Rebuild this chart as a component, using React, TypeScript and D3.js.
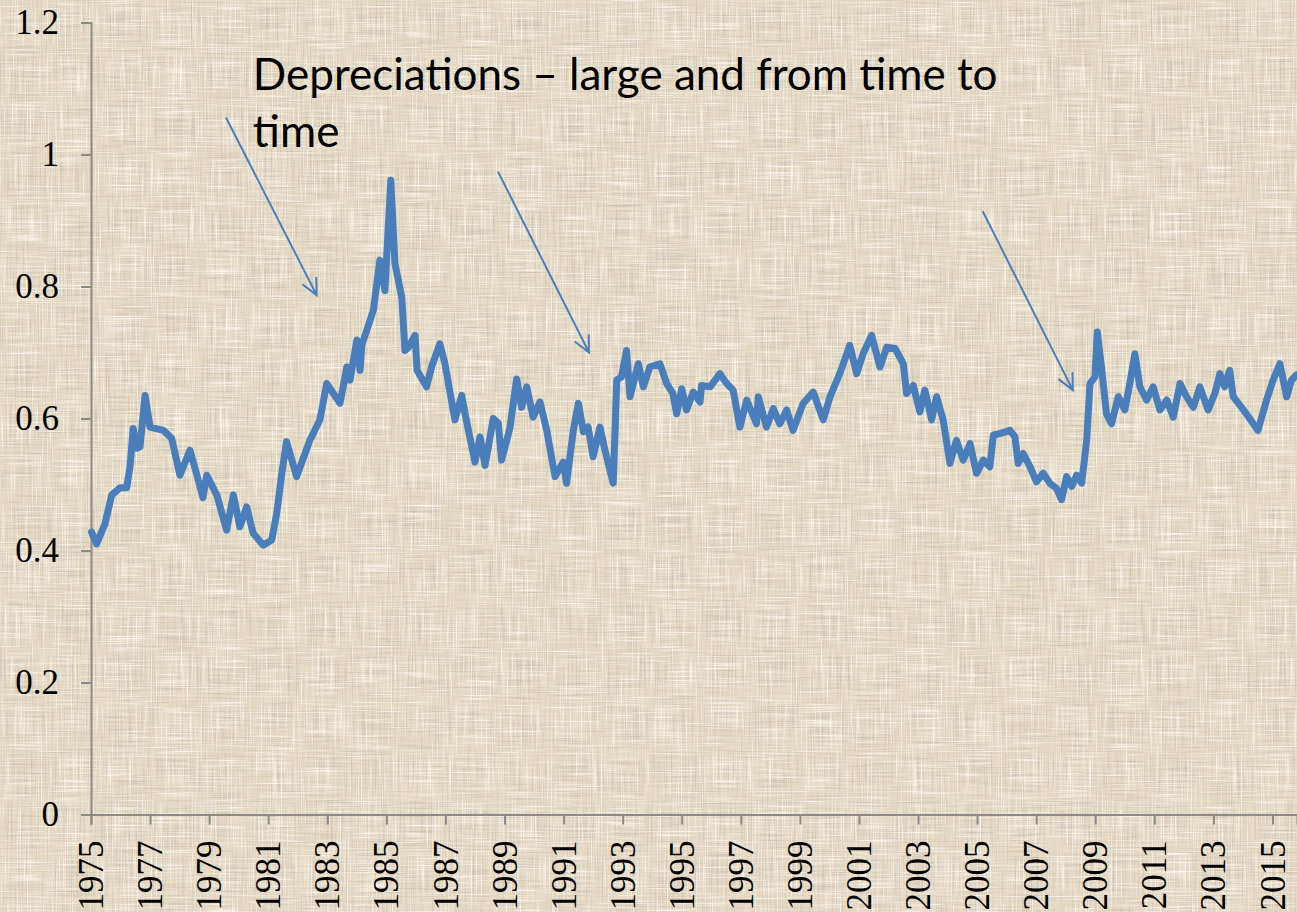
import React, { useEffect, useRef } from "react";
import * as d3 from "d3";

// decimal year of each reading, and the rate
const dates = [
  1975.02, 1975.19, 1975.47, 1975.7, 1975.98, 1976.21, 1976.32, 1976.43, 1976.55, 1976.66,
  1976.83, 1977.0, 1977.45, 1977.73, 1978.01, 1978.35, 1978.63, 1978.79, 1978.92, 1979.26,
  1979.59, 1979.82, 1980.04, 1980.27, 1980.49, 1980.83, 1981.12, 1981.29, 1981.46, 1981.62,
  1981.96, 1982.41, 1982.75, 1982.98, 1983.43, 1983.66, 1983.77, 1984.0, 1984.11, 1984.17,
  1984.56, 1984.78, 1984.95, 1985.15, 1985.29, 1985.52, 1985.63, 1985.75, 1985.97, 1986.04,
  1986.36, 1986.53, 1986.81, 1986.98, 1987.32, 1987.55, 1987.66, 1988.0, 1988.17, 1988.34,
  1988.62, 1988.79, 1988.9, 1989.18, 1989.41, 1989.58, 1989.75, 1989.97, 1990.2, 1990.43,
  1990.71, 1990.99, 1991.1, 1991.33, 1991.5, 1991.67, 1991.83, 1992.0, 1992.23, 1992.4,
  1992.68, 1992.8, 1992.96, 1993.13, 1993.25, 1993.53, 1993.7, 1993.92, 1994.26, 1994.49,
  1994.7, 1994.83, 1995.0, 1995.16, 1995.39, 1995.62, 1995.67, 1995.96, 1996.29, 1996.52,
  1996.74, 1996.97, 1997.2, 1997.53, 1997.59, 1997.87, 1998.1, 1998.32, 1998.55, 1998.77,
  1999.11, 1999.45, 1999.79, 2000.02, 2000.35, 2000.69, 2000.92, 2001.14, 2001.43, 2001.71,
  2001.94, 2002.22, 2002.5, 2002.61, 2002.84, 2003.06, 2003.23, 2003.46, 2003.63, 2003.85,
  2004.08, 2004.3, 2004.53, 2004.76, 2004.98, 2005.21, 2005.43, 2005.55, 2005.77, 2006.11,
  2006.28, 2006.39, 2006.56, 2006.79, 2007.01, 2007.24, 2007.46, 2007.69, 2007.86, 2008.03,
  2008.2, 2008.37, 2008.54, 2008.71, 2008.82, 2008.99, 2009.07, 2009.21, 2009.38, 2009.55,
  2009.78, 2010.0, 2010.17, 2010.34, 2010.51, 2010.74, 2010.96, 2011.19, 2011.42, 2011.64,
  2011.87, 2012.09, 2012.32, 2012.54, 2012.82, 2013.05, 2013.22, 2013.38, 2013.55, 2013.67,
  2014.12, 2014.51, 2014.8, 2015.02, 2015.25, 2015.48, 2015.64, 2015.81,
];

const rates = [
  0.428, 0.41, 0.44, 0.484, 0.495, 0.495, 0.527, 0.585, 0.555, 0.557,
  0.635, 0.587, 0.582, 0.57, 0.514, 0.552, 0.507, 0.48, 0.514, 0.484,
  0.431, 0.484, 0.436, 0.466, 0.426, 0.408, 0.416, 0.457, 0.517, 0.565,
  0.512, 0.567, 0.598, 0.653, 0.623, 0.678, 0.658, 0.719, 0.673, 0.711,
  0.764, 0.84, 0.794, 0.961, 0.835, 0.784, 0.703, 0.708, 0.726, 0.673,
  0.648, 0.678, 0.713, 0.684, 0.598, 0.635, 0.608, 0.534, 0.572, 0.529,
  0.6, 0.593, 0.537, 0.585, 0.66, 0.617, 0.648, 0.602, 0.625, 0.582,
  0.512, 0.534, 0.502, 0.582, 0.623, 0.58, 0.587, 0.542, 0.587, 0.552,
  0.502, 0.658, 0.663, 0.703, 0.633, 0.683, 0.648, 0.678, 0.683, 0.653,
  0.638, 0.607, 0.645, 0.613, 0.64, 0.625, 0.65, 0.648, 0.668, 0.653,
  0.643, 0.587, 0.628, 0.592, 0.633, 0.587, 0.615, 0.592, 0.613, 0.582,
  0.623, 0.64, 0.598, 0.633, 0.668, 0.711, 0.668, 0.698, 0.726, 0.678,
  0.708, 0.706, 0.683, 0.638, 0.65, 0.61, 0.643, 0.598, 0.633, 0.598,
  0.532, 0.567, 0.537, 0.562, 0.517, 0.537, 0.527, 0.575, 0.577, 0.582,
  0.572, 0.532, 0.547, 0.527, 0.504, 0.517, 0.502, 0.494, 0.477, 0.512,
  0.497, 0.514, 0.502, 0.567, 0.653, 0.663, 0.731, 0.678, 0.607, 0.592,
  0.633, 0.613, 0.653, 0.698, 0.648, 0.628, 0.648, 0.613, 0.628, 0.602,
  0.653, 0.633, 0.617, 0.648, 0.613, 0.638, 0.668, 0.648, 0.673, 0.633,
  0.607, 0.582, 0.628, 0.658, 0.683, 0.633, 0.658, 0.666,
];

const yearTicks = [
  1975, 1977, 1979, 1981, 1983, 1985, 1987, 1989, 1991, 1993, 1995,
  1997, 1999, 2001, 2003, 2005, 2007, 2009, 2011, 2013, 2015,
];
const valueTicks = [0, 0.2, 0.4, 0.6, 0.8, 1, 1.2];

const noteLines = ["Depreciations \u2013 large and from time to", "time"];
// arrows: [start year, start value] -> [tip year, tip value]
const arrowStarts = [[1979.57, 1.056], [1988.78, 0.974], [2005.19, 0.914]];
const arrowTips = [[1982.64, 0.787], [1991.86, 0.7], [2008.24, 0.643]];

const W = 1297;
const H = 912;

export default function App() {
  const ref = useRef<SVGSVGElement>(null);

  useEffect(() => {
    const svg = d3.select(ref.current);
    svg.selectAll("*").remove();

    const blue = "#4a7ebb";
    const axisCol = "#8a8a8a";

    const x = d3.scaleLinear().domain([1975, 2015.83]).range([91, W]);
    const y = d3.scaleLinear().domain([0, 1.2]).range([814.5, 22.5]);

    // linen background
    const defs = svg.append("defs");
    const f = defs.append("filter").attr("id", "linen")
      .attr("x", 0).attr("y", 0).attr("width", 1).attr("height", 1);
    f.append("feTurbulence").attr("type", "fractalNoise")
      .attr("baseFrequency", "0.8 0.02").attr("numOctaves", 2).attr("seed", 3).attr("result", "vt");
    f.append("feTurbulence").attr("type", "fractalNoise")
      .attr("baseFrequency", "0.02 0.8").attr("numOctaves", 2).attr("seed", 8).attr("result", "ht");
    const dark = "0 0 0 0 0.5 0 0 0 0 0.45 0 0 0 0 0.38 1.8 0 0 0 -0.98";
    const light = "0 0 0 0 0.99 0 0 0 0 0.97 0 0 0 0 0.92 -2.6 0 0 0 1.15";
    f.append("feColorMatrix").attr("in", "vt").attr("type", "matrix").attr("values", dark).attr("result", "vd");
    f.append("feColorMatrix").attr("in", "ht").attr("type", "matrix").attr("values", dark).attr("result", "hd");
    f.append("feColorMatrix").attr("in", "vt").attr("type", "matrix").attr("values", light).attr("result", "vl");
    f.append("feColorMatrix").attr("in", "ht").attr("type", "matrix").attr("values", light).attr("result", "hl");
    const m = f.append("feMerge");
    ["SourceGraphic", "vd", "hd", "vl", "hl"].forEach((k) => m.append("feMergeNode").attr("in", k));

    svg.append("rect").attr("width", W).attr("height", H)
      .attr("fill", "#e5dac4").attr("filter", "url(#linen)");

    // y axis
    const gy = svg.append("g").attr("transform", `translate(${x(1975)},0)`)
      .call(d3.axisLeft(y).tickValues(valueTicks).tickSize(10).tickPadding(22).tickFormat((d) => String(d)));
    gy.selectAll("text").attr("font-family", "'Liberation Serif', 'Times New Roman', serif")
      .attr("font-size", 35).attr("fill", "#000");

    // x axis
    const gx = svg.append("g").attr("transform", `translate(0,${y(0)})`)
      .call(d3.axisBottom(x).tickValues(yearTicks).tickSize(10).tickFormat(d3.format("d")));
    gx.selectAll("text")
      .attr("font-family", "'Liberation Serif', 'Times New Roman', serif")
      .attr("font-size", 35).attr("fill", "#000")
      .attr("text-anchor", "end")
      .attr("transform", "translate(0,26) rotate(-90)")
      .attr("x", 0).attr("y", 0).attr("dy", "0.33em");

    [gx, gy].forEach((g) => {
      g.selectAll("path, line").attr("stroke", axisCol).attr("stroke-width", 2);
    });

    // series
    const line = d3.line<number>().x((d, i) => x(dates[i])).y((d) => y(d));
    svg.append("path").datum(rates).attr("d", line)
      .attr("fill", "none").attr("stroke", blue).attr("stroke-width", 7)
      .attr("stroke-linejoin", "round").attr("stroke-linecap", "round");

    // note
    const note = svg.append("text").attr("font-family", "Lato, 'Open Sans', sans-serif")
      .attr("font-size", 44).attr("fill", "#000");
    noteLines.forEach((t, i) => {
      note.append("tspan").attr("x", x(1980.48)).attr("y", y(i === 0 ? 1.097 : 1.012)).text(t);
    });

    // arrows
    arrowStarts.forEach((s, i) => {
      const t = arrowTips[i];
      const x0 = x(s[0]), y0 = y(s[1]), x1 = x(t[0]), y1 = y(t[1]);
      const a = Math.atan2(y1 - y0, x1 - x0);
      const len = 18, spread = 0.45;
      const b1 = [x1 - len * Math.cos(a - spread), y1 - len * Math.sin(a - spread)];
      const b2 = [x1 - len * Math.cos(a + spread), y1 - len * Math.sin(a + spread)];
      svg.append("path")
        .attr("d", `M${x0},${y0}L${x1},${y1}M${b1[0]},${b1[1]}L${x1},${y1}L${b2[0]},${b2[1]}`)
        .attr("fill", "none").attr("stroke", blue).attr("stroke-width", 2);
    });
  }, []);

  return (
    <svg ref={ref} width={W} height={H}
      style={{ position: "absolute", left: 0, top: 0, display: "block" }} />
  );
}
